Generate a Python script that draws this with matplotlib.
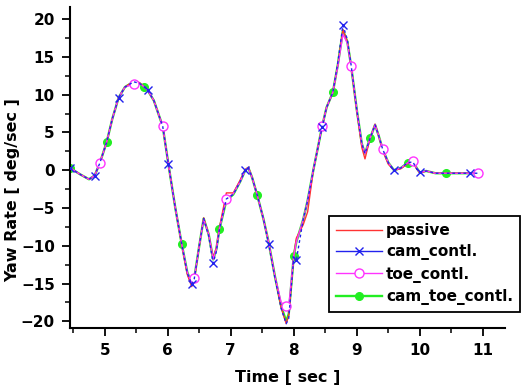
import numpy as np
import matplotlib.pyplot as plt
from matplotlib.ticker import MultipleLocator

plt.rcParams['font.family'] = ['DejaVu Sans']
plt.rcParams['font.weight'] = 'bold'

# time samples [sec]
t = [4.45, 4.6, 4.75, 4.84, 4.92, 5.03, 5.12, 5.22, 5.32, 5.46, 5.55, 5.63,
     5.68, 5.78, 5.92, 6.01, 6.12, 6.22, 6.31, 6.38, 6.42, 6.5, 6.57, 6.65,
     6.72, 6.77, 6.82, 6.93, 7.04, 7.15, 7.23, 7.28, 7.34, 7.42, 7.52, 7.6,
     7.7, 7.8, 7.88, 7.92, 8.0, 8.04, 8.15, 8.22, 8.31, 8.45, 8.52, 8.62,
     8.7, 8.78, 8.85, 8.91, 9.0, 9.08, 9.13, 9.21, 9.29, 9.35, 9.41, 9.5,
     9.59, 9.7, 9.81, 9.89, 9.95, 10.0, 10.1, 10.25, 10.41, 10.6, 10.8, 10.92]

# yaw rate [deg/sec]
passive = [0.3, -0.5, -1.2, -0.7, 0.9, 3.7, 6.8, 9.6, 11.0, 11.8, 11.6, 11.0,
           10.6, 9.2, 5.8, 0.8, -5.0, -9.8, -13.8, -15.4, -14.6, -10.0, -6.3, -8.5,
           -11.6, -10.3, -7.6, -3.0, -3.0, -1.3, 0.1, 0.4, -1.0, -3.3, -6.5, -9.5,
           -14.0, -18.2, -20.3, -19.2, -11.3, -9.0, -7.2, -5.5, 0.0, 5.8, 8.3, 10.3,
           14.0, 18.6, 17.0, 13.8, 7.8, 3.0, 1.5, 4.2, 6.1, 4.5, 2.6, 0.8,
           0.0, 0.2, 0.9, 1.1, 0.2, -0.4, -0.1, -0.4, -0.4, -0.4, -0.4, -0.4]
cam = [0.3, -0.5, -1.2, -0.7, 0.9, 3.7, 6.8, 9.6, 11.0, 11.7, 11.5, 11.0,
       10.6, 9.2, 5.8, 0.8, -5.0, -9.7, -13.6, -15.1, -14.4, -10.0, -6.4, -8.7,
       -12.3, -10.8, -7.8, -3.8, -3.2, -1.5, 0.0, 0.3, -1.0, -3.3, -6.5, -9.7,
       -14.2, -18.3, -20.3, -19.6, -11.5, -11.9, -6.5, -4.0, 0.0, 5.7, 8.3, 10.3,
       14.3, 19.2, 17.3, 13.9, 8.0, 3.5, 2.2, 4.2, 6.0, 4.5, 2.8, 1.0,
       0.0, 0.3, 1.0, 1.1, 0.2, -0.3, -0.1, -0.4, -0.4, -0.4, -0.4, -0.4]
toe = [0.3, -0.5, -1.2, -0.7, 0.9, 3.7, 6.8, 9.6, 11.0, 11.4, 11.5, 11.0,
       10.6, 9.2, 5.8, 0.8, -5.0, -9.7, -13.5, -15.0, -14.3, -10.0, -6.5, -8.5,
       -11.8, -10.5, -7.8, -3.8, -3.1, -1.5, 0.0, 0.3, -1.0, -3.3, -6.5, -9.5,
       -14.0, -17.5, -18.0, -18.0, -11.3, -9.5, -6.5, -4.0, 0.0, 5.8, 8.3, 10.3,
       13.8, 18.0, 16.8, 13.8, 8.0, 3.5, 2.2, 4.2, 6.0, 4.5, 2.8, 1.0,
       0.0, 0.3, 1.0, 1.2, 0.3, -0.3, -0.1, -0.4, -0.4, -0.4, -0.4, -0.4]
cam_toe = [0.3, -0.5, -1.2, -0.7, 0.9, 3.7, 6.8, 9.6, 11.0, 11.7, 11.5, 11.0,
           10.6, 9.2, 5.8, 0.8, -5.0, -9.7, -13.5, -15.0, -14.3, -10.0, -6.4, -8.5,
           -11.8, -10.5, -7.8, -4.0, -3.2, -1.5, 0.0, 0.3, -1.0, -3.3, -6.5, -9.5,
           -14.0, -18.0, -20.0, -19.0, -11.3, -9.5, -6.5, -4.0, 0.0, 5.8, 8.3, 10.3,
           14.0, 18.5, 17.0, 13.8, 8.0, 3.5, 2.2, 4.2, 6.0, 4.5, 2.8, 1.0,
           0.0, 0.3, 1.0, 1.2, 0.3, -0.3, -0.1, -0.4, -0.4, -0.4, -0.4, -0.4]

# sample indices where markers are drawn
cam_marks = [0, 3, 7, 12, 15, 19, 24, 30, 35, 41, 45, 49, 60, 65, 70]
toe_marks = [4, 9, 14, 20, 27, 38, 45, 51, 58, 63, 71]
cam_toe_marks = [0, 5, 11, 17, 26, 33, 40, 47, 55, 62, 68]

fig = plt.figure(figsize=(5.27, 3.87), dpi=100)
ax = fig.add_axes((0.133, 0.152, 0.825, 0.830))

ax.plot(t, cam_toe, color='#22ee22', lw=1.7, marker='o', ms=5.5,
        markevery=cam_toe_marks, label='cam_toe_contl.', zorder=2)
ax.plot(t, passive, color='#ff3333', lw=1.0, label='passive', zorder=3)
ax.plot(t, toe, color='#ff33ff', lw=1.0, marker='o', ms=6.5, mfc='white',
        markevery=toe_marks, label='toe_contl.', zorder=3)
ax.plot(t, cam, color='#2222ee', lw=1.0, ls=(0, (2, 2)), marker='x', ms=6,
        markevery=cam_marks, label='cam_contl.', zorder=4)

ax.set_xlim(4.45, 11.35)
ax.set_ylim(-20.9, 21.6)
ax.xaxis.set_major_locator(MultipleLocator(1))
ax.xaxis.set_minor_locator(MultipleLocator(0.5))
ax.yaxis.set_major_locator(MultipleLocator(5))
ax.yaxis.set_minor_locator(MultipleLocator(2.5))
ax.tick_params(which='major', direction='out', length=6, width=1.3,
               labelsize=11, pad=5)
ax.tick_params(which='minor', direction='out', length=3.5, width=1.1)
for s in ['top', 'right']:
    ax.spines[s].set_visible(False)
for s in ['left', 'bottom']:
    ax.spines[s].set_linewidth(1.5)

ax.set_xlabel('Time [ sec ]', fontsize=11.5, fontweight='bold')
ax.set_ylabel('Yaw Rate [ deg/sec ]', fontsize=11.5, fontweight='bold')
ax.xaxis.label.set_verticalalignment('bottom')
ax.yaxis.label.set_verticalalignment('center')
ax.xaxis.set_label_coords((70 + 505) / 2 / 527, 2 / 387, transform=fig.transFigure)
ax.yaxis.set_label_coords(13 / 527, 1 - 190 / 387, transform=fig.transFigure)

h, l = ax.get_legend_handles_labels()
order = [1, 3, 2, 0]
leg = ax.legend([h[i] for i in order], [l[i] for i in order],
                loc='lower right', bbox_to_anchor=(520 / 527, 1 - 312 / 387),
                bbox_transform=fig.transFigure, fancybox=False,
                edgecolor='black', framealpha=1, fontsize=11,
                handlelength=3.0, borderpad=0.45, labelspacing=0.42,
                handletextpad=0.3, borderaxespad=0)
leg.get_frame().set_linewidth(1.3)
for line in leg.get_lines():
    line.set_linestyle('-')

fig.savefig('out.png', dpi=100)
